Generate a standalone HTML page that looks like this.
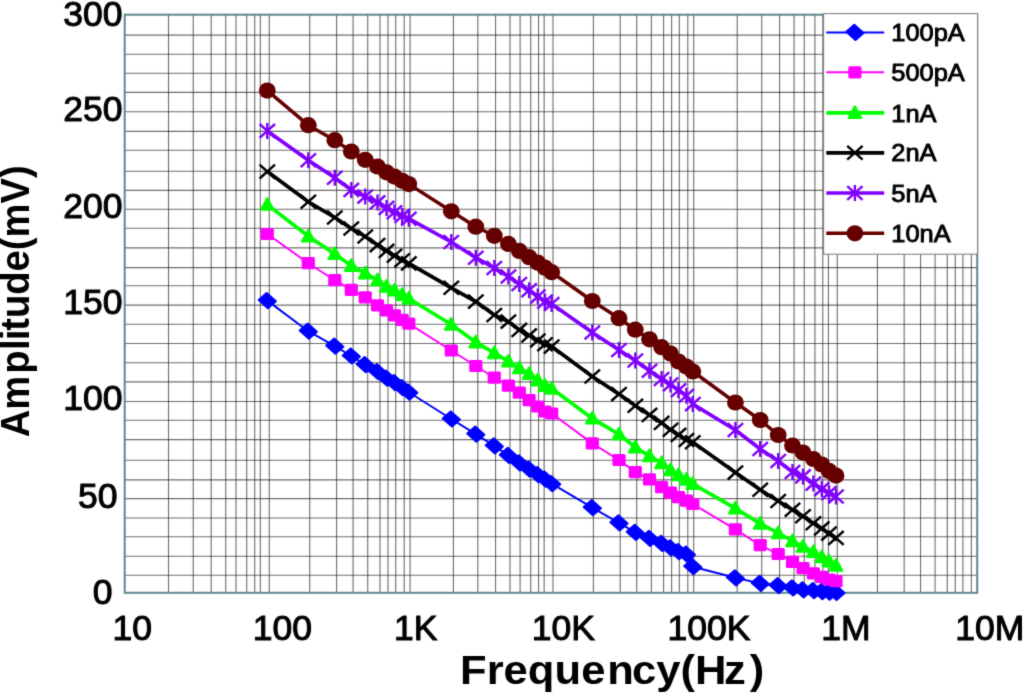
<!DOCTYPE html>
<html><head><meta charset="utf-8"><title>Amplitude vs Frequency</title>
<style>
html,body{margin:0;padding:0;background:#fff;}
body{width:1024px;height:694px;overflow:hidden;}
svg text{font-family:"Liberation Sans",sans-serif;}
</style></head><body>
<svg width="1024" height="694" viewBox="0 0 1024 694" style="display:block;filter:url(#bl)">
<defs><filter id="bl" x="0" y="0" width="1024" height="694" filterUnits="userSpaceOnUse" color-interpolation-filters="sRGB"><feConvolveMatrix order="3" kernelMatrix="0.01690 0.09620 0.01690 0.09620 0.54760 0.09620 0.01690 0.09620 0.01690" edgeMode="duplicate" preserveAlpha="true"/></filter></defs>
<rect width="1024" height="694" fill="#fff"/>
<path d="M124.7 35.10H977.2M124.7 54.30H977.2M124.7 73.20H977.2M124.7 92.40H977.2M124.7 111.70H977.2M124.7 131.40H977.2M124.7 150.30H977.2M124.7 171.20H977.2M124.7 190.40H977.2M124.7 209.30H977.2M124.7 228.30H977.2M124.7 247.90H977.2M124.7 267.60H977.2M124.7 285.80H977.2M124.7 305.10H977.2M124.7 324.30H977.2M124.7 343.50H977.2M124.7 362.70H977.2M124.7 381.90H977.2M124.7 401.50H977.2M124.7 420.20H977.2M124.7 439.60H977.2M124.7 460.30H977.2M124.7 479.90H977.2M124.7 498.60H977.2M124.7 518.00H977.2M124.7 536.70H977.2M124.7 556.30H977.2M124.7 575.20H977.2" stroke="#222" stroke-width="1.1" fill="none" opacity="0.66"/>
<path d="M168.51 14.7V592.8M193.24 14.7V592.8M211.17 14.7V592.8M225.78 14.7V592.8M236.04 14.7V592.8M246.74 14.7V592.8M254.70 14.7V592.8M260.33 14.7V592.8M269.30 14.7V592.8M309.71 14.7V592.8M336.60 14.7V592.8M353.08 14.7V592.8M367.72 14.7V592.8M379.97 14.7V592.8M387.99 14.7V592.8M395.74 14.7V592.8M404.19 14.7V592.8M410.10 14.7V592.8M453.40 14.7V592.8M477.83 14.7V592.8M495.55 14.7V592.8M509.99 14.7V592.8M520.13 14.7V592.8M530.71 14.7V592.8M538.57 14.7V592.8M544.14 14.7V592.8M553.00 14.7V592.8M593.38 14.7V592.8M620.25 14.7V592.8M636.72 14.7V592.8M651.35 14.7V592.8M663.59 14.7V592.8M671.61 14.7V592.8M679.35 14.7V592.8M687.79 14.7V592.8M693.70 14.7V592.8M737.21 14.7V592.8M761.77 14.7V592.8M779.57 14.7V592.8M794.08 14.7V592.8M804.27 14.7V592.8M814.90 14.7V592.8M822.80 14.7V592.8M828.40 14.7V592.8M837.30 14.7V592.8M877.45 14.7V592.8M904.17 14.7V592.8M920.54 14.7V592.8M935.09 14.7V592.8M947.26 14.7V592.8M955.24 14.7V592.8M962.93 14.7V592.8M971.32 14.7V592.8" stroke="#222" stroke-width="1.1" fill="none" opacity="0.66"/>
<rect x="124.7" y="14.7" width="852.5" height="578.1" fill="none" stroke="#62858f" stroke-width="2.0"/>
<polyline points="267.3,300.6 308.3,331.2 334.8,346.2 351.3,356.0 365.2,364.6 377.5,371.6 386.5,378.2 394.5,382.7 402.2,387.7 408.8,392.2 451.3,419.0 475.8,434.1 494.3,445.9 508.4,455.4 519.3,462.9 529.1,469.2 537.8,474.7 545.0,479.2 551.7,483.7 592.3,507.7 619.0,522.8 635.3,532.3 649.5,538.3 661.6,543.3 670.5,547.9 678.5,551.6 686.4,554.1 692.8,566.7 735.4,577.8 760.2,583.4 778.2,585.7 792.5,587.8 803.0,589.8 813.4,590.7 821.8,591.6 829.0,592.1 836.0,592.4" fill="none" stroke="#0000ff" stroke-width="1.95" stroke-linejoin="round"/>
<path d="M258.7 300.0L266.7 293.0L275.9 301.2L267.9 308.2Z" fill="#0000ff" stroke="#0000ff" stroke-width="2" stroke-linejoin="round"/><path d="M299.7 330.6L307.7 323.6L316.9 331.8L308.9 338.8Z" fill="#0000ff" stroke="#0000ff" stroke-width="2" stroke-linejoin="round"/><path d="M326.2 345.6L334.2 338.6L343.4 346.8L335.4 353.8Z" fill="#0000ff" stroke="#0000ff" stroke-width="2" stroke-linejoin="round"/><path d="M342.7 355.4L350.7 348.4L359.9 356.6L351.9 363.6Z" fill="#0000ff" stroke="#0000ff" stroke-width="2" stroke-linejoin="round"/><path d="M356.6 364.0L364.6 357.0L373.8 365.2L365.8 372.2Z" fill="#0000ff" stroke="#0000ff" stroke-width="2" stroke-linejoin="round"/><path d="M368.9 371.0L376.9 364.0L386.1 372.2L378.1 379.2Z" fill="#0000ff" stroke="#0000ff" stroke-width="2" stroke-linejoin="round"/><path d="M377.9 377.6L385.9 370.6L395.1 378.8L387.1 385.8Z" fill="#0000ff" stroke="#0000ff" stroke-width="2" stroke-linejoin="round"/><path d="M385.9 382.1L393.9 375.1L403.1 383.3L395.1 390.3Z" fill="#0000ff" stroke="#0000ff" stroke-width="2" stroke-linejoin="round"/><path d="M393.6 387.1L401.6 380.1L410.8 388.3L402.8 395.3Z" fill="#0000ff" stroke="#0000ff" stroke-width="2" stroke-linejoin="round"/><path d="M400.2 391.6L408.2 384.6L417.4 392.8L409.4 399.8Z" fill="#0000ff" stroke="#0000ff" stroke-width="2" stroke-linejoin="round"/><path d="M442.7 418.4L450.7 411.4L459.9 419.6L451.9 426.6Z" fill="#0000ff" stroke="#0000ff" stroke-width="2" stroke-linejoin="round"/><path d="M467.2 433.5L475.2 426.5L484.4 434.7L476.4 441.7Z" fill="#0000ff" stroke="#0000ff" stroke-width="2" stroke-linejoin="round"/><path d="M485.7 445.3L493.7 438.3L502.9 446.5L494.9 453.5Z" fill="#0000ff" stroke="#0000ff" stroke-width="2" stroke-linejoin="round"/><path d="M499.8 454.8L507.8 447.8L517.0 456.0L509.0 463.0Z" fill="#0000ff" stroke="#0000ff" stroke-width="2" stroke-linejoin="round"/><path d="M510.7 462.3L518.7 455.3L527.9 463.5L519.9 470.5Z" fill="#0000ff" stroke="#0000ff" stroke-width="2" stroke-linejoin="round"/><path d="M520.5 468.6L528.5 461.6L537.7 469.8L529.7 476.8Z" fill="#0000ff" stroke="#0000ff" stroke-width="2" stroke-linejoin="round"/><path d="M529.2 474.1L537.2 467.1L546.4 475.3L538.4 482.3Z" fill="#0000ff" stroke="#0000ff" stroke-width="2" stroke-linejoin="round"/><path d="M536.4 478.6L544.4 471.6L553.6 479.8L545.6 486.8Z" fill="#0000ff" stroke="#0000ff" stroke-width="2" stroke-linejoin="round"/><path d="M543.1 483.1L551.1 476.1L560.3 484.3L552.3 491.3Z" fill="#0000ff" stroke="#0000ff" stroke-width="2" stroke-linejoin="round"/><path d="M583.7 507.1L591.7 500.1L600.9 508.3L592.9 515.3Z" fill="#0000ff" stroke="#0000ff" stroke-width="2" stroke-linejoin="round"/><path d="M610.4 522.2L618.4 515.2L627.6 523.4L619.6 530.4Z" fill="#0000ff" stroke="#0000ff" stroke-width="2" stroke-linejoin="round"/><path d="M626.7 531.7L634.7 524.7L643.9 532.9L635.9 539.9Z" fill="#0000ff" stroke="#0000ff" stroke-width="2" stroke-linejoin="round"/><path d="M640.9 537.7L648.9 530.7L658.1 538.9L650.1 545.9Z" fill="#0000ff" stroke="#0000ff" stroke-width="2" stroke-linejoin="round"/><path d="M653.0 542.7L661.0 535.7L670.2 543.9L662.2 550.9Z" fill="#0000ff" stroke="#0000ff" stroke-width="2" stroke-linejoin="round"/><path d="M661.9 547.3L669.9 540.3L679.1 548.5L671.1 555.5Z" fill="#0000ff" stroke="#0000ff" stroke-width="2" stroke-linejoin="round"/><path d="M669.9 551.0L677.9 544.0L687.1 552.2L679.1 559.2Z" fill="#0000ff" stroke="#0000ff" stroke-width="2" stroke-linejoin="round"/><path d="M677.8 553.5L685.8 546.5L695.0 554.7L687.0 561.7Z" fill="#0000ff" stroke="#0000ff" stroke-width="2" stroke-linejoin="round"/><path d="M684.2 566.1L692.2 559.1L701.4 567.3L693.4 574.3Z" fill="#0000ff" stroke="#0000ff" stroke-width="2" stroke-linejoin="round"/><path d="M726.8 577.2L734.8 570.2L744.0 578.4L736.0 585.4Z" fill="#0000ff" stroke="#0000ff" stroke-width="2" stroke-linejoin="round"/><path d="M751.6 582.8L759.6 575.8L768.8 584.0L760.8 591.0Z" fill="#0000ff" stroke="#0000ff" stroke-width="2" stroke-linejoin="round"/><path d="M769.6 585.1L777.6 578.1L786.8 586.3L778.8 593.3Z" fill="#0000ff" stroke="#0000ff" stroke-width="2" stroke-linejoin="round"/><path d="M783.9 587.2L791.9 580.2L801.1 588.4L793.1 595.4Z" fill="#0000ff" stroke="#0000ff" stroke-width="2" stroke-linejoin="round"/><path d="M794.4 589.2L802.4 582.2L811.6 590.4L803.6 597.4Z" fill="#0000ff" stroke="#0000ff" stroke-width="2" stroke-linejoin="round"/><path d="M804.8 590.1L812.8 583.1L822.0 591.3L814.0 598.3Z" fill="#0000ff" stroke="#0000ff" stroke-width="2" stroke-linejoin="round"/><path d="M813.2 591.0L821.2 584.0L830.4 592.2L822.4 599.2Z" fill="#0000ff" stroke="#0000ff" stroke-width="2" stroke-linejoin="round"/><path d="M820.4 591.5L828.4 584.5L837.6 592.7L829.6 599.7Z" fill="#0000ff" stroke="#0000ff" stroke-width="2" stroke-linejoin="round"/><path d="M827.4 591.8L835.4 584.8L844.6 593.0L836.6 600.0Z" fill="#0000ff" stroke="#0000ff" stroke-width="2" stroke-linejoin="round"/>
<polyline points="267.3,234.0 308.3,263.2 334.8,280.2 351.3,289.8 365.2,297.3 377.5,305.3 386.5,310.3 394.5,315.3 402.2,319.9 408.8,323.6 451.3,350.5 475.8,366.0 494.3,377.7 508.4,385.7 519.3,392.7 529.1,400.2 537.8,406.5 545.0,411.5 551.7,413.5 592.3,443.4 619.0,460.0 635.3,472.1 649.5,479.4 661.6,487.2 670.5,492.7 678.5,497.2 686.4,500.7 692.8,504.0 735.4,529.4 760.2,545.1 778.2,554.0 792.5,561.9 803.0,568.2 813.4,573.4 821.8,576.9 829.0,579.5 836.0,581.2" fill="none" stroke="#ff00ff" stroke-width="1.95" stroke-linejoin="round"/>
<rect x="260.7" y="227.9" width="13.2" height="12.2" rx="1.6" fill="#ff00ff"/><rect x="301.7" y="257.1" width="13.2" height="12.2" rx="1.6" fill="#ff00ff"/><rect x="328.2" y="274.1" width="13.2" height="12.2" rx="1.6" fill="#ff00ff"/><rect x="344.7" y="283.7" width="13.2" height="12.2" rx="1.6" fill="#ff00ff"/><rect x="358.6" y="291.2" width="13.2" height="12.2" rx="1.6" fill="#ff00ff"/><rect x="370.9" y="299.2" width="13.2" height="12.2" rx="1.6" fill="#ff00ff"/><rect x="379.9" y="304.2" width="13.2" height="12.2" rx="1.6" fill="#ff00ff"/><rect x="387.9" y="309.2" width="13.2" height="12.2" rx="1.6" fill="#ff00ff"/><rect x="395.6" y="313.8" width="13.2" height="12.2" rx="1.6" fill="#ff00ff"/><rect x="402.2" y="317.5" width="13.2" height="12.2" rx="1.6" fill="#ff00ff"/><rect x="444.7" y="344.4" width="13.2" height="12.2" rx="1.6" fill="#ff00ff"/><rect x="469.2" y="359.9" width="13.2" height="12.2" rx="1.6" fill="#ff00ff"/><rect x="487.7" y="371.6" width="13.2" height="12.2" rx="1.6" fill="#ff00ff"/><rect x="501.8" y="379.6" width="13.2" height="12.2" rx="1.6" fill="#ff00ff"/><rect x="512.7" y="386.6" width="13.2" height="12.2" rx="1.6" fill="#ff00ff"/><rect x="522.5" y="394.1" width="13.2" height="12.2" rx="1.6" fill="#ff00ff"/><rect x="531.2" y="400.4" width="13.2" height="12.2" rx="1.6" fill="#ff00ff"/><rect x="538.4" y="405.4" width="13.2" height="12.2" rx="1.6" fill="#ff00ff"/><rect x="545.1" y="407.4" width="13.2" height="12.2" rx="1.6" fill="#ff00ff"/><rect x="585.7" y="437.3" width="13.2" height="12.2" rx="1.6" fill="#ff00ff"/><rect x="612.4" y="453.9" width="13.2" height="12.2" rx="1.6" fill="#ff00ff"/><rect x="628.7" y="466.0" width="13.2" height="12.2" rx="1.6" fill="#ff00ff"/><rect x="642.9" y="473.3" width="13.2" height="12.2" rx="1.6" fill="#ff00ff"/><rect x="655.0" y="481.1" width="13.2" height="12.2" rx="1.6" fill="#ff00ff"/><rect x="663.9" y="486.6" width="13.2" height="12.2" rx="1.6" fill="#ff00ff"/><rect x="671.9" y="491.1" width="13.2" height="12.2" rx="1.6" fill="#ff00ff"/><rect x="679.8" y="494.6" width="13.2" height="12.2" rx="1.6" fill="#ff00ff"/><rect x="686.2" y="497.9" width="13.2" height="12.2" rx="1.6" fill="#ff00ff"/><rect x="728.8" y="523.3" width="13.2" height="12.2" rx="1.6" fill="#ff00ff"/><rect x="753.6" y="539.0" width="13.2" height="12.2" rx="1.6" fill="#ff00ff"/><rect x="771.6" y="547.9" width="13.2" height="12.2" rx="1.6" fill="#ff00ff"/><rect x="785.9" y="555.8" width="13.2" height="12.2" rx="1.6" fill="#ff00ff"/><rect x="796.4" y="562.1" width="13.2" height="12.2" rx="1.6" fill="#ff00ff"/><rect x="806.8" y="567.3" width="13.2" height="12.2" rx="1.6" fill="#ff00ff"/><rect x="815.2" y="570.8" width="13.2" height="12.2" rx="1.6" fill="#ff00ff"/><rect x="822.4" y="573.4" width="13.2" height="12.2" rx="1.6" fill="#ff00ff"/><rect x="829.4" y="575.1" width="13.2" height="12.2" rx="1.6" fill="#ff00ff"/>
<polyline points="267.3,204.6 308.3,236.3 334.8,253.9 351.3,265.7 365.2,273.2 377.5,280.2 386.5,286.5 394.5,290.3 402.2,294.8 408.8,298.5 451.3,324.5 475.8,342.2 494.3,353.0 508.4,361.4 519.3,368.1 529.1,373.9 537.8,380.2 545.0,385.7 551.7,388.5 592.3,418.4 619.0,434.3 635.3,447.3 649.5,456.0 661.6,463.0 670.5,470.1 678.5,475.1 686.4,479.6 692.8,483.9 735.4,508.4 760.2,523.6 778.2,533.0 792.5,541.0 803.0,546.6 813.4,551.8 821.8,557.0 829.0,561.3 836.0,565.6" fill="none" stroke="#00ff00" stroke-width="3.7" stroke-linejoin="round"/>
<path d="M267.3 198.0L273.7 209.8L260.9 209.8Z" fill="#00ff00" stroke="#00ff00" stroke-width="2" stroke-linejoin="round"/><path d="M308.3 229.7L314.7 241.5L301.9 241.5Z" fill="#00ff00" stroke="#00ff00" stroke-width="2" stroke-linejoin="round"/><path d="M334.8 247.3L341.2 259.1L328.4 259.1Z" fill="#00ff00" stroke="#00ff00" stroke-width="2" stroke-linejoin="round"/><path d="M351.3 259.1L357.7 270.9L344.9 270.9Z" fill="#00ff00" stroke="#00ff00" stroke-width="2" stroke-linejoin="round"/><path d="M365.2 266.6L371.6 278.4L358.8 278.4Z" fill="#00ff00" stroke="#00ff00" stroke-width="2" stroke-linejoin="round"/><path d="M377.5 273.6L383.9 285.4L371.1 285.4Z" fill="#00ff00" stroke="#00ff00" stroke-width="2" stroke-linejoin="round"/><path d="M386.5 279.9L392.9 291.7L380.1 291.7Z" fill="#00ff00" stroke="#00ff00" stroke-width="2" stroke-linejoin="round"/><path d="M394.5 283.7L400.9 295.5L388.1 295.5Z" fill="#00ff00" stroke="#00ff00" stroke-width="2" stroke-linejoin="round"/><path d="M402.2 288.2L408.6 300.0L395.8 300.0Z" fill="#00ff00" stroke="#00ff00" stroke-width="2" stroke-linejoin="round"/><path d="M408.8 291.9L415.2 303.7L402.4 303.7Z" fill="#00ff00" stroke="#00ff00" stroke-width="2" stroke-linejoin="round"/><path d="M451.3 317.9L457.7 329.7L444.9 329.7Z" fill="#00ff00" stroke="#00ff00" stroke-width="2" stroke-linejoin="round"/><path d="M475.8 335.6L482.2 347.4L469.4 347.4Z" fill="#00ff00" stroke="#00ff00" stroke-width="2" stroke-linejoin="round"/><path d="M494.3 346.4L500.7 358.2L487.9 358.2Z" fill="#00ff00" stroke="#00ff00" stroke-width="2" stroke-linejoin="round"/><path d="M508.4 354.8L514.8 366.6L502.0 366.6Z" fill="#00ff00" stroke="#00ff00" stroke-width="2" stroke-linejoin="round"/><path d="M519.3 361.5L525.7 373.3L512.9 373.3Z" fill="#00ff00" stroke="#00ff00" stroke-width="2" stroke-linejoin="round"/><path d="M529.1 367.3L535.5 379.1L522.7 379.1Z" fill="#00ff00" stroke="#00ff00" stroke-width="2" stroke-linejoin="round"/><path d="M537.8 373.6L544.2 385.4L531.4 385.4Z" fill="#00ff00" stroke="#00ff00" stroke-width="2" stroke-linejoin="round"/><path d="M545.0 379.1L551.4 390.9L538.6 390.9Z" fill="#00ff00" stroke="#00ff00" stroke-width="2" stroke-linejoin="round"/><path d="M551.7 381.9L558.1 393.7L545.3 393.7Z" fill="#00ff00" stroke="#00ff00" stroke-width="2" stroke-linejoin="round"/><path d="M592.3 411.8L598.7 423.6L585.9 423.6Z" fill="#00ff00" stroke="#00ff00" stroke-width="2" stroke-linejoin="round"/><path d="M619.0 427.7L625.4 439.5L612.6 439.5Z" fill="#00ff00" stroke="#00ff00" stroke-width="2" stroke-linejoin="round"/><path d="M635.3 440.7L641.7 452.5L628.9 452.5Z" fill="#00ff00" stroke="#00ff00" stroke-width="2" stroke-linejoin="round"/><path d="M649.5 449.4L655.9 461.2L643.1 461.2Z" fill="#00ff00" stroke="#00ff00" stroke-width="2" stroke-linejoin="round"/><path d="M661.6 456.4L668.0 468.2L655.2 468.2Z" fill="#00ff00" stroke="#00ff00" stroke-width="2" stroke-linejoin="round"/><path d="M670.5 463.5L676.9 475.3L664.1 475.3Z" fill="#00ff00" stroke="#00ff00" stroke-width="2" stroke-linejoin="round"/><path d="M678.5 468.5L684.9 480.3L672.1 480.3Z" fill="#00ff00" stroke="#00ff00" stroke-width="2" stroke-linejoin="round"/><path d="M686.4 473.0L692.8 484.8L680.0 484.8Z" fill="#00ff00" stroke="#00ff00" stroke-width="2" stroke-linejoin="round"/><path d="M692.8 477.3L699.2 489.1L686.4 489.1Z" fill="#00ff00" stroke="#00ff00" stroke-width="2" stroke-linejoin="round"/><path d="M735.4 501.8L741.8 513.6L729.0 513.6Z" fill="#00ff00" stroke="#00ff00" stroke-width="2" stroke-linejoin="round"/><path d="M760.2 517.0L766.6 528.8L753.8 528.8Z" fill="#00ff00" stroke="#00ff00" stroke-width="2" stroke-linejoin="round"/><path d="M778.2 526.4L784.6 538.2L771.8 538.2Z" fill="#00ff00" stroke="#00ff00" stroke-width="2" stroke-linejoin="round"/><path d="M792.5 534.4L798.9 546.2L786.1 546.2Z" fill="#00ff00" stroke="#00ff00" stroke-width="2" stroke-linejoin="round"/><path d="M803.0 540.0L809.4 551.8L796.6 551.8Z" fill="#00ff00" stroke="#00ff00" stroke-width="2" stroke-linejoin="round"/><path d="M813.4 545.2L819.8 557.0L807.0 557.0Z" fill="#00ff00" stroke="#00ff00" stroke-width="2" stroke-linejoin="round"/><path d="M821.8 550.4L828.2 562.2L815.4 562.2Z" fill="#00ff00" stroke="#00ff00" stroke-width="2" stroke-linejoin="round"/><path d="M829.0 554.7L835.4 566.5L822.6 566.5Z" fill="#00ff00" stroke="#00ff00" stroke-width="2" stroke-linejoin="round"/><path d="M836.0 559.0L842.4 570.8L829.6 570.8Z" fill="#00ff00" stroke="#00ff00" stroke-width="2" stroke-linejoin="round"/>
<polyline points="267.3,171.6 308.3,201.8 334.8,217.5 351.3,228.5 365.2,236.5 377.5,245.1 386.5,250.9 394.5,255.7 402.2,260.2 408.8,263.4 451.3,287.8 475.8,301.6 494.3,315.0 508.4,321.6 519.3,329.9 529.1,335.4 537.8,340.5 545.0,344.2 551.7,346.6 592.3,376.5 619.0,394.1 635.3,405.8 649.5,414.9 661.6,422.9 670.5,429.7 678.5,434.9 686.4,440.0 692.8,442.2 735.4,472.6 760.2,489.8 778.2,501.0 792.5,509.8 803.0,516.3 813.4,523.2 821.8,528.4 829.0,533.6 836.0,537.9" fill="none" stroke="#000000" stroke-width="3.7" stroke-linejoin="round"/>
<path d="M259.6 164.7L275.0 178.5M259.6 178.5L275.0 164.7" stroke="#000000" stroke-width="2.4" fill="none"/><path d="M300.6 194.9L316.0 208.7M300.6 208.7L316.0 194.9" stroke="#000000" stroke-width="2.4" fill="none"/><path d="M327.1 210.6L342.5 224.4M327.1 224.4L342.5 210.6" stroke="#000000" stroke-width="2.4" fill="none"/><path d="M343.6 221.6L359.0 235.4M343.6 235.4L359.0 221.6" stroke="#000000" stroke-width="2.4" fill="none"/><path d="M357.5 229.6L372.9 243.4M357.5 243.4L372.9 229.6" stroke="#000000" stroke-width="2.4" fill="none"/><path d="M369.8 238.2L385.2 252.0M369.8 252.0L385.2 238.2" stroke="#000000" stroke-width="2.4" fill="none"/><path d="M378.8 244.0L394.2 257.8M378.8 257.8L394.2 244.0" stroke="#000000" stroke-width="2.4" fill="none"/><path d="M386.8 248.8L402.2 262.6M386.8 262.6L402.2 248.8" stroke="#000000" stroke-width="2.4" fill="none"/><path d="M394.5 253.3L409.9 267.1M394.5 267.1L409.9 253.3" stroke="#000000" stroke-width="2.4" fill="none"/><path d="M401.1 256.5L416.5 270.3M401.1 270.3L416.5 256.5" stroke="#000000" stroke-width="2.4" fill="none"/><path d="M443.6 280.9L459.0 294.7M443.6 294.7L459.0 280.9" stroke="#000000" stroke-width="2.4" fill="none"/><path d="M468.1 294.7L483.5 308.5M468.1 308.5L483.5 294.7" stroke="#000000" stroke-width="2.4" fill="none"/><path d="M486.6 308.1L502.0 321.9M486.6 321.9L502.0 308.1" stroke="#000000" stroke-width="2.4" fill="none"/><path d="M500.7 314.7L516.1 328.5M500.7 328.5L516.1 314.7" stroke="#000000" stroke-width="2.4" fill="none"/><path d="M511.6 323.0L527.0 336.8M511.6 336.8L527.0 323.0" stroke="#000000" stroke-width="2.4" fill="none"/><path d="M521.4 328.5L536.8 342.3M521.4 342.3L536.8 328.5" stroke="#000000" stroke-width="2.4" fill="none"/><path d="M530.1 333.6L545.5 347.4M530.1 347.4L545.5 333.6" stroke="#000000" stroke-width="2.4" fill="none"/><path d="M537.3 337.3L552.7 351.1M537.3 351.1L552.7 337.3" stroke="#000000" stroke-width="2.4" fill="none"/><path d="M544.0 339.7L559.4 353.5M544.0 353.5L559.4 339.7" stroke="#000000" stroke-width="2.4" fill="none"/><path d="M584.6 369.6L600.0 383.4M584.6 383.4L600.0 369.6" stroke="#000000" stroke-width="2.4" fill="none"/><path d="M611.3 387.2L626.7 401.0M611.3 401.0L626.7 387.2" stroke="#000000" stroke-width="2.4" fill="none"/><path d="M627.6 398.9L643.0 412.7M627.6 412.7L643.0 398.9" stroke="#000000" stroke-width="2.4" fill="none"/><path d="M641.8 408.0L657.2 421.8M641.8 421.8L657.2 408.0" stroke="#000000" stroke-width="2.4" fill="none"/><path d="M653.9 416.0L669.3 429.8M653.9 429.8L669.3 416.0" stroke="#000000" stroke-width="2.4" fill="none"/><path d="M662.8 422.8L678.2 436.6M662.8 436.6L678.2 422.8" stroke="#000000" stroke-width="2.4" fill="none"/><path d="M670.8 428.0L686.2 441.8M670.8 441.8L686.2 428.0" stroke="#000000" stroke-width="2.4" fill="none"/><path d="M678.7 433.1L694.1 446.9M678.7 446.9L694.1 433.1" stroke="#000000" stroke-width="2.4" fill="none"/><path d="M685.1 435.3L700.5 449.1M685.1 449.1L700.5 435.3" stroke="#000000" stroke-width="2.4" fill="none"/><path d="M727.7 465.7L743.1 479.5M727.7 479.5L743.1 465.7" stroke="#000000" stroke-width="2.4" fill="none"/><path d="M752.5 482.9L767.9 496.7M752.5 496.7L767.9 482.9" stroke="#000000" stroke-width="2.4" fill="none"/><path d="M770.5 494.1L785.9 507.9M770.5 507.9L785.9 494.1" stroke="#000000" stroke-width="2.4" fill="none"/><path d="M784.8 502.9L800.2 516.7M784.8 516.7L800.2 502.9" stroke="#000000" stroke-width="2.4" fill="none"/><path d="M795.3 509.4L810.7 523.2M795.3 523.2L810.7 509.4" stroke="#000000" stroke-width="2.4" fill="none"/><path d="M805.7 516.3L821.1 530.1M805.7 530.1L821.1 516.3" stroke="#000000" stroke-width="2.4" fill="none"/><path d="M814.1 521.5L829.5 535.3M814.1 535.3L829.5 521.5" stroke="#000000" stroke-width="2.4" fill="none"/><path d="M821.3 526.7L836.7 540.5M821.3 540.5L836.7 526.7" stroke="#000000" stroke-width="2.4" fill="none"/><path d="M828.3 531.0L843.7 544.8M828.3 544.8L843.7 531.0" stroke="#000000" stroke-width="2.4" fill="none"/>
<polyline points="267.3,130.9 308.3,160.3 334.8,177.8 351.3,189.9 365.2,196.6 377.5,202.4 386.5,207.9 394.5,212.2 402.2,215.9 408.8,218.7 451.3,242.0 475.8,257.7 494.3,268.0 508.4,276.5 519.3,284.0 529.1,290.3 537.8,296.6 545.0,301.6 551.7,304.0 592.3,332.5 619.0,350.0 635.3,360.5 649.5,370.7 661.6,379.0 670.5,384.5 678.5,390.3 686.4,395.8 692.8,404.1 735.4,430.0 760.2,449.0 778.2,461.0 792.5,472.0 803.0,476.4 813.4,483.6 821.8,489.1 829.0,493.1 836.0,496.5" fill="none" stroke="#8000ff" stroke-width="3.7" stroke-linejoin="round"/>
<path d="M259.6 124.0L275.0 137.8M259.6 137.8L275.0 124.0M267.3 122.9L267.3 138.9" stroke="#8000ff" stroke-width="2.4" fill="none"/><path d="M300.6 153.4L316.0 167.2M300.6 167.2L316.0 153.4M308.3 152.3L308.3 168.3" stroke="#8000ff" stroke-width="2.4" fill="none"/><path d="M327.1 170.9L342.5 184.7M327.1 184.7L342.5 170.9M334.8 169.8L334.8 185.8" stroke="#8000ff" stroke-width="2.4" fill="none"/><path d="M343.6 183.0L359.0 196.8M343.6 196.8L359.0 183.0M351.3 181.9L351.3 197.9" stroke="#8000ff" stroke-width="2.4" fill="none"/><path d="M357.5 189.7L372.9 203.5M357.5 203.5L372.9 189.7M365.2 188.6L365.2 204.6" stroke="#8000ff" stroke-width="2.4" fill="none"/><path d="M369.8 195.5L385.2 209.3M369.8 209.3L385.2 195.5M377.5 194.4L377.5 210.4" stroke="#8000ff" stroke-width="2.4" fill="none"/><path d="M378.8 201.0L394.2 214.8M378.8 214.8L394.2 201.0M386.5 199.9L386.5 215.9" stroke="#8000ff" stroke-width="2.4" fill="none"/><path d="M386.8 205.3L402.2 219.1M386.8 219.1L402.2 205.3M394.5 204.2L394.5 220.2" stroke="#8000ff" stroke-width="2.4" fill="none"/><path d="M394.5 209.0L409.9 222.8M394.5 222.8L409.9 209.0M402.2 207.9L402.2 223.9" stroke="#8000ff" stroke-width="2.4" fill="none"/><path d="M401.1 211.8L416.5 225.6M401.1 225.6L416.5 211.8M408.8 210.7L408.8 226.7" stroke="#8000ff" stroke-width="2.4" fill="none"/><path d="M443.6 235.1L459.0 248.9M443.6 248.9L459.0 235.1M451.3 234.0L451.3 250.0" stroke="#8000ff" stroke-width="2.4" fill="none"/><path d="M468.1 250.8L483.5 264.6M468.1 264.6L483.5 250.8M475.8 249.7L475.8 265.7" stroke="#8000ff" stroke-width="2.4" fill="none"/><path d="M486.6 261.1L502.0 274.9M486.6 274.9L502.0 261.1M494.3 260.0L494.3 276.0" stroke="#8000ff" stroke-width="2.4" fill="none"/><path d="M500.7 269.6L516.1 283.4M500.7 283.4L516.1 269.6M508.4 268.5L508.4 284.5" stroke="#8000ff" stroke-width="2.4" fill="none"/><path d="M511.6 277.1L527.0 290.9M511.6 290.9L527.0 277.1M519.3 276.0L519.3 292.0" stroke="#8000ff" stroke-width="2.4" fill="none"/><path d="M521.4 283.4L536.8 297.2M521.4 297.2L536.8 283.4M529.1 282.3L529.1 298.3" stroke="#8000ff" stroke-width="2.4" fill="none"/><path d="M530.1 289.7L545.5 303.5M530.1 303.5L545.5 289.7M537.8 288.6L537.8 304.6" stroke="#8000ff" stroke-width="2.4" fill="none"/><path d="M537.3 294.7L552.7 308.5M537.3 308.5L552.7 294.7M545.0 293.6L545.0 309.6" stroke="#8000ff" stroke-width="2.4" fill="none"/><path d="M544.0 297.1L559.4 310.9M544.0 310.9L559.4 297.1M551.7 296.0L551.7 312.0" stroke="#8000ff" stroke-width="2.4" fill="none"/><path d="M584.6 325.6L600.0 339.4M584.6 339.4L600.0 325.6M592.3 324.5L592.3 340.5" stroke="#8000ff" stroke-width="2.4" fill="none"/><path d="M611.3 343.1L626.7 356.9M611.3 356.9L626.7 343.1M619.0 342.0L619.0 358.0" stroke="#8000ff" stroke-width="2.4" fill="none"/><path d="M627.6 353.6L643.0 367.4M627.6 367.4L643.0 353.6M635.3 352.5L635.3 368.5" stroke="#8000ff" stroke-width="2.4" fill="none"/><path d="M641.8 363.8L657.2 377.6M641.8 377.6L657.2 363.8M649.5 362.7L649.5 378.7" stroke="#8000ff" stroke-width="2.4" fill="none"/><path d="M653.9 372.1L669.3 385.9M653.9 385.9L669.3 372.1M661.6 371.0L661.6 387.0" stroke="#8000ff" stroke-width="2.4" fill="none"/><path d="M662.8 377.6L678.2 391.4M662.8 391.4L678.2 377.6M670.5 376.5L670.5 392.5" stroke="#8000ff" stroke-width="2.4" fill="none"/><path d="M670.8 383.4L686.2 397.2M670.8 397.2L686.2 383.4M678.5 382.3L678.5 398.3" stroke="#8000ff" stroke-width="2.4" fill="none"/><path d="M678.7 388.9L694.1 402.7M678.7 402.7L694.1 388.9M686.4 387.8L686.4 403.8" stroke="#8000ff" stroke-width="2.4" fill="none"/><path d="M685.1 397.2L700.5 411.0M685.1 411.0L700.5 397.2M692.8 396.1L692.8 412.1" stroke="#8000ff" stroke-width="2.4" fill="none"/><path d="M727.7 423.1L743.1 436.9M727.7 436.9L743.1 423.1M735.4 422.0L735.4 438.0" stroke="#8000ff" stroke-width="2.4" fill="none"/><path d="M752.5 442.1L767.9 455.9M752.5 455.9L767.9 442.1M760.2 441.0L760.2 457.0" stroke="#8000ff" stroke-width="2.4" fill="none"/><path d="M770.5 454.1L785.9 467.9M770.5 467.9L785.9 454.1M778.2 453.0L778.2 469.0" stroke="#8000ff" stroke-width="2.4" fill="none"/><path d="M784.8 465.1L800.2 478.9M784.8 478.9L800.2 465.1M792.5 464.0L792.5 480.0" stroke="#8000ff" stroke-width="2.4" fill="none"/><path d="M795.3 469.5L810.7 483.3M795.3 483.3L810.7 469.5M803.0 468.4L803.0 484.4" stroke="#8000ff" stroke-width="2.4" fill="none"/><path d="M805.7 476.7L821.1 490.5M805.7 490.5L821.1 476.7M813.4 475.6L813.4 491.6" stroke="#8000ff" stroke-width="2.4" fill="none"/><path d="M814.1 482.2L829.5 496.0M814.1 496.0L829.5 482.2M821.8 481.1L821.8 497.1" stroke="#8000ff" stroke-width="2.4" fill="none"/><path d="M821.3 486.2L836.7 500.0M821.3 500.0L836.7 486.2M829.0 485.1L829.0 501.1" stroke="#8000ff" stroke-width="2.4" fill="none"/><path d="M828.3 489.6L843.7 503.4M828.3 503.4L843.7 489.6M836.0 488.5L836.0 504.5" stroke="#8000ff" stroke-width="2.4" fill="none"/>
<polyline points="267.3,90.6 308.3,125.2 334.8,140.2 351.3,151.5 365.2,159.8 377.5,166.5 386.5,172.3 394.5,176.6 402.2,180.8 408.8,184.1 451.3,211.3 475.8,226.7 494.3,235.8 508.4,243.9 519.3,250.9 529.1,257.2 537.8,262.7 545.0,267.7 551.7,272.2 592.3,301.0 619.0,318.2 635.3,329.7 649.5,339.3 661.6,347.2 670.5,353.5 678.5,361.5 686.4,366.5 692.8,371.5 735.4,402.5 760.2,420.0 778.2,435.0 792.5,445.5 803.0,452.6 813.4,459.0 821.8,464.5 829.0,470.9 836.0,475.6" fill="none" stroke="#660000" stroke-width="3.5" stroke-linejoin="round"/>
<ellipse cx="267.3" cy="90.6" rx="8.4" ry="8.1" fill="#660000"/><ellipse cx="308.3" cy="125.2" rx="8.4" ry="8.1" fill="#660000"/><ellipse cx="334.8" cy="140.2" rx="8.4" ry="8.1" fill="#660000"/><ellipse cx="351.3" cy="151.5" rx="8.4" ry="8.1" fill="#660000"/><ellipse cx="365.2" cy="159.8" rx="8.4" ry="8.1" fill="#660000"/><ellipse cx="377.5" cy="166.5" rx="8.4" ry="8.1" fill="#660000"/><ellipse cx="386.5" cy="172.3" rx="8.4" ry="8.1" fill="#660000"/><ellipse cx="394.5" cy="176.6" rx="8.4" ry="8.1" fill="#660000"/><ellipse cx="402.2" cy="180.8" rx="8.4" ry="8.1" fill="#660000"/><ellipse cx="408.8" cy="184.1" rx="8.4" ry="8.1" fill="#660000"/><ellipse cx="451.3" cy="211.3" rx="8.4" ry="8.1" fill="#660000"/><ellipse cx="475.8" cy="226.7" rx="8.4" ry="8.1" fill="#660000"/><ellipse cx="494.3" cy="235.8" rx="8.4" ry="8.1" fill="#660000"/><ellipse cx="508.4" cy="243.9" rx="8.4" ry="8.1" fill="#660000"/><ellipse cx="519.3" cy="250.9" rx="8.4" ry="8.1" fill="#660000"/><ellipse cx="529.1" cy="257.2" rx="8.4" ry="8.1" fill="#660000"/><ellipse cx="537.8" cy="262.7" rx="8.4" ry="8.1" fill="#660000"/><ellipse cx="545.0" cy="267.7" rx="8.4" ry="8.1" fill="#660000"/><ellipse cx="551.7" cy="272.2" rx="8.4" ry="8.1" fill="#660000"/><ellipse cx="592.3" cy="301.0" rx="8.4" ry="8.1" fill="#660000"/><ellipse cx="619.0" cy="318.2" rx="8.4" ry="8.1" fill="#660000"/><ellipse cx="635.3" cy="329.7" rx="8.4" ry="8.1" fill="#660000"/><ellipse cx="649.5" cy="339.3" rx="8.4" ry="8.1" fill="#660000"/><ellipse cx="661.6" cy="347.2" rx="8.4" ry="8.1" fill="#660000"/><ellipse cx="670.5" cy="353.5" rx="8.4" ry="8.1" fill="#660000"/><ellipse cx="678.5" cy="361.5" rx="8.4" ry="8.1" fill="#660000"/><ellipse cx="686.4" cy="366.5" rx="8.4" ry="8.1" fill="#660000"/><ellipse cx="692.8" cy="371.5" rx="8.4" ry="8.1" fill="#660000"/><ellipse cx="735.4" cy="402.5" rx="8.4" ry="8.1" fill="#660000"/><ellipse cx="760.2" cy="420.0" rx="8.4" ry="8.1" fill="#660000"/><ellipse cx="778.2" cy="435.0" rx="8.4" ry="8.1" fill="#660000"/><ellipse cx="792.5" cy="445.5" rx="8.4" ry="8.1" fill="#660000"/><ellipse cx="803.0" cy="452.6" rx="8.4" ry="8.1" fill="#660000"/><ellipse cx="813.4" cy="459.0" rx="8.4" ry="8.1" fill="#660000"/><ellipse cx="821.8" cy="464.5" rx="8.4" ry="8.1" fill="#660000"/><ellipse cx="829.0" cy="470.9" rx="8.4" ry="8.1" fill="#660000"/><ellipse cx="836.0" cy="475.6" rx="8.4" ry="8.1" fill="#660000"/>
<rect x="823.6" y="13.6" width="154.0" height="240.6" fill="#fff" stroke="#7a7a7a" stroke-width="1"/>
<path d="M826.3 32.4H884.2" stroke="#0000ff" stroke-width="1.95"/>
<path d="M846.3 31.8L854.3 24.8L863.5 33.0L855.5 40.0Z" fill="#0000ff" stroke="#0000ff" stroke-width="2" stroke-linejoin="round"/>
<text transform="translate(891.3 41.0) scale(1.06 1)" font-size="24" fill="#000" stroke="#000" stroke-width="0.9">100pA</text>
<path d="M826.3 72.3H884.2" stroke="#ff00ff" stroke-width="1.95"/>
<rect x="848.3" y="66.2" width="13.2" height="12.2" rx="1.6" fill="#ff00ff"/>
<text transform="translate(891.3 80.9) scale(1.06 1)" font-size="24" fill="#000" stroke="#000" stroke-width="0.9">500pA</text>
<path d="M826.3 112.9H884.2" stroke="#00ff00" stroke-width="3.7"/>
<path d="M854.9 106.3L861.3 118.1L848.5 118.1Z" fill="#00ff00" stroke="#00ff00" stroke-width="2" stroke-linejoin="round"/>
<text transform="translate(891.3 121.5) scale(1.06 1)" font-size="24" fill="#000" stroke="#000" stroke-width="0.9">1nA</text>
<path d="M826.3 152.8H884.2" stroke="#000000" stroke-width="3.7"/>
<path d="M847.2 145.9L862.6 159.7M847.2 159.7L862.6 145.9" stroke="#000000" stroke-width="2.4" fill="none"/>
<text transform="translate(891.3 161.4) scale(1.06 1)" font-size="24" fill="#000" stroke="#000" stroke-width="0.9">2nA</text>
<path d="M826.3 193.0H884.2" stroke="#8000ff" stroke-width="3.7"/>
<path d="M847.2 186.1L862.6 199.9M847.2 199.9L862.6 186.1M854.9 185.0L854.9 201.0" stroke="#8000ff" stroke-width="2.4" fill="none"/>
<text transform="translate(891.3 201.6) scale(1.06 1)" font-size="24" fill="#000" stroke="#000" stroke-width="0.9">5nA</text>
<path d="M826.3 233.3H884.2" stroke="#660000" stroke-width="3.5"/>
<ellipse cx="854.9" cy="233.3" rx="8.4" ry="8.1" fill="#660000"/>
<text transform="translate(891.3 241.9) scale(1.06 1)" font-size="24" fill="#000" stroke="#000" stroke-width="0.9">10nA</text>
<text transform="translate(122.6 25.6) scale(1.03 1)" text-anchor="end" font-size="34.5" fill="#000" stroke="#000" stroke-width="1.0">300</text>
<text transform="translate(122.6 121.0) scale(1.03 1)" text-anchor="end" font-size="34.5" fill="#000" stroke="#000" stroke-width="1.0">250</text>
<text transform="translate(122.6 218.0) scale(1.03 1)" text-anchor="end" font-size="34.5" fill="#000" stroke="#000" stroke-width="1.0">200</text>
<text transform="translate(122.6 314.3) scale(1.03 1)" text-anchor="end" font-size="34.5" fill="#000" stroke="#000" stroke-width="1.0">150</text>
<text transform="translate(122.6 410.3) scale(1.03 1)" text-anchor="end" font-size="34.5" fill="#000" stroke="#000" stroke-width="1.0">100</text>
<text transform="translate(117.4 507.8) scale(1.03 1)" text-anchor="end" font-size="34.5" fill="#000" stroke="#000" stroke-width="1.0">50</text>
<text transform="translate(112.4 604.2) scale(1.03 1)" text-anchor="end" font-size="34.5" fill="#000" stroke="#000" stroke-width="1.0">0</text>
<text transform="translate(112.4 640.2) scale(1.03 1)" font-size="34.5" fill="#000" stroke="#000" stroke-width="1.0">10</text>
<text transform="translate(252.7 640.2) scale(1.03 1)" font-size="34.5" fill="#000" stroke="#000" stroke-width="1.0">100</text>
<text transform="translate(394.1 640.2) scale(1.03 1)" font-size="34.5" fill="#000" stroke="#000" stroke-width="1.0">1K</text>
<text transform="translate(531.7 640.2) scale(1.03 1)" font-size="34.5" fill="#000" stroke="#000" stroke-width="1.0">10K</text>
<text transform="translate(667.4 640.2) scale(1.03 1)" font-size="34.5" fill="#000" stroke="#000" stroke-width="1.0">100K</text>
<text transform="translate(821.3 640.2) scale(1.03 1)" font-size="34.5" fill="#000" stroke="#000" stroke-width="1.0">1M</text>
<text transform="translate(955.3 640.2) scale(1.03 1)" font-size="34.5" fill="#000" stroke="#000" stroke-width="1.0">10M</text>
<text transform="translate(460 684.2) scale(1.09 1)" font-size="40" font-weight="bold" fill="#000" dx="0 0 0 0 0 0 1.8 -1.8 0 0 0 -2.4 3.8">Frequency(Hz)</text>
<text transform="translate(28.8 437.3) rotate(-90) scale(0.955 1)" font-size="40" font-weight="bold" fill="#000" dx="0 0 2.2 0.2 -0.8 -1.2">Amplitude(mV)</text>
</svg>
</body></html>
